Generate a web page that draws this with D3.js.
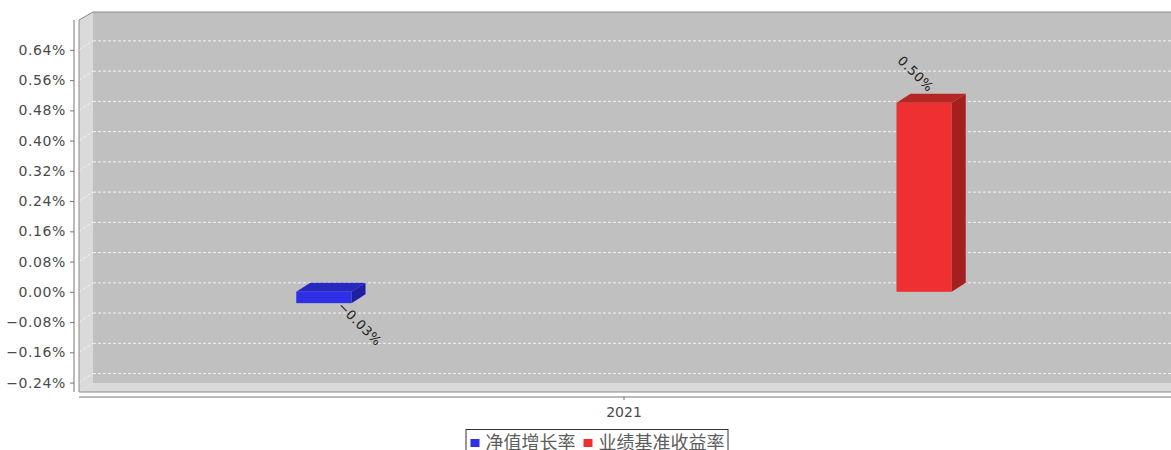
<!DOCTYPE html>
<html>
<head>
<meta charset="utf-8">
<script src="https://cdn.jsdelivr.net/npm/d3@7"></script>
<style>
  html, body { margin: 0; padding: 0; background: #fff; }
  svg { display: block; }
</style>
</head>
<body>
<svg id="chart" width="1171" height="450"></svg>
<script>
// data
var categories = ['2021'];
var seriesNames = ['净值增长率', '业绩基准收益率'];
var seriesColors = ['#2f2fe6', '#ee3030'];
var seriesTop = ['#2727c2', '#b82525'];
var seriesSide = ['#1f1fa2', '#a51f1f'];
var netGrowth = [-0.03];
var benchmark = [0.50];
var yTicks = [-0.24, -0.16, -0.08, 0.00, 0.08, 0.16, 0.24, 0.32, 0.40, 0.48, 0.56, 0.64];

function Chart(){}

/**************************************************************************************/

Chart.prototype.setup = function(svg_id){
    this.svg = d3.select('#'+svg_id);
    this.left = 79;
    this.right = 1169;
    this.top = 20;
    this.bottom = 392;
    this.dx = 14;
    this.dy = 9;

    this.y = d3.scaleLinear().domain([-0.265, 0.719]).range([this.bottom, this.top]);
    this.x0 = d3.scaleBand().domain(categories).range([this.left, this.right]);
    this.x1 = d3.scaleBand().domain(seriesNames).range([0, this.x0.bandwidth()])
        .paddingInner(0.908).paddingOuter(0.362);

    this.draw_walls();
    this.draw_axes();
    this.draw_bars();
    this.draw_legend();
}

/**************************************************************************************/

Chart.prototype.draw_walls = function(){
    var s = this, L = this.left, R = this.right, T = this.top, B = this.bottom, dx = this.dx, dy = this.dy;
    var g = this.svg.append('g');

    // back wall
    g.append('rect').attr('x', L+dx).attr('y', T-dy+1).attr('width', R-L+10).attr('height', B-T)
        .attr('fill', '#c0c0c0');
    // left wall
    g.append('path').attr('d', 'M'+L+','+T+' L'+(L+dx)+','+(T-dy+1)+' L'+(L+dx)+','+(B-dy)+' L'+L+','+B+' Z')
        .attr('fill', '#dadada');
    // floor
    g.append('path').attr('d', 'M'+L+','+B+' L'+(L+dx)+','+(B-dy)+' L'+(R+dx+10)+','+(B-dy)+' L'+(R+dx+10)+','+B+' Z')
        .attr('fill', '#dadada');

    // grid lines
    yTicks.forEach(function(v){
        var yy = s.y(v);
        g.append('line').attr('x1', L+dx).attr('x2', R+dx+10).attr('y1', yy-dy).attr('y2', yy-dy)
            .attr('stroke', '#f4f4f4').attr('stroke-width', 1).attr('stroke-dasharray', '3,2');
        g.append('line').attr('x1', L).attr('x2', L+dx).attr('y1', yy).attr('y2', yy-dy)
            .attr('stroke', '#f4f4f4').attr('stroke-width', 1).attr('stroke-dasharray', '3,2');
    });

    // outline
    g.append('path').attr('d', 'M'+L+','+B+' L'+L+','+T+' L'+(L+dx)+','+(T-dy+1)+' L'+(R+dx+10)+','+(T-dy+1))
        .attr('fill', 'none').attr('stroke', '#8c8c8c').attr('stroke-width', 1);
    g.append('line').attr('x1', L).attr('x2', R+dx+10).attr('y1', B).attr('y2', B)
        .attr('stroke', '#8c8c8c').attr('stroke-width', 1);
}

/**************************************************************************************/

Chart.prototype.draw_axes = function(){
    var s = this;
    var yAxis = d3.axisLeft(this.y).tickValues(yTicks).tickSize(4).tickPadding(4)
        .tickFormat(function(d){ return d3.format('.2f')(d) + '%'; });

    var gy = this.svg.append('g').attr('transform', 'translate(' +(this.left-5)+ ',0)').call(yAxis);
    gy.select('.domain').attr('d', 'M0,' +this.top+ 'V' +this.bottom).attr('stroke', '#777');
    gy.selectAll('.tick line').attr('stroke', '#777');
    gy.selectAll('.tick text').attr('fill', '#4a4a4a').style('font-family', 'DejaVu Sans')
        .style('font-size', '14px').attr('letter-spacing', '0.6px');

    var xAxis = d3.axisBottom(this.x0).tickSize(3).tickPadding(7).tickSizeOuter(0);
    var gx = this.svg.append('g').attr('transform', 'translate(0,' +(this.bottom+5)+ ')').call(xAxis);
    gx.select('.domain').attr('d', 'M' +this.left+ ',0H1171').attr('stroke', '#777');
    gx.selectAll('.tick line').attr('stroke', '#777');
    gx.selectAll('.tick text').attr('fill', '#4a4a4a').style('font-family', 'DejaVu Sans').style('font-size', '14px');
}

/**************************************************************************************/

Chart.prototype.draw_bars = function(){
    var s = this, dx = this.dx, dy = this.dy;
    var series = [netGrowth, benchmark];
    var g = this.svg.append('g');

    series.forEach(function(vals, si){
        vals.forEach(function(v, ci){
            var x = s.x0(categories[ci]) + s.x1(seriesNames[si]);
            var w = s.x1.bandwidth();
            var top = s.y(Math.max(0, v));
            var bot = s.y(Math.min(0, v));

            g.append('rect').attr('x', x).attr('y', top).attr('width', w).attr('height', bot-top)
                .attr('fill', seriesColors[si]);
            g.append('path')
                .attr('d', 'M'+x+','+top+' L'+(x+dx)+','+(top-dy)+' L'+(x+w+dx)+','+(top-dy)+' L'+(x+w)+','+top+' Z')
                .attr('fill', seriesTop[si]);
            g.append('path')
                .attr('d', 'M'+(x+w)+','+top+' L'+(x+w+dx)+','+(top-dy)+' L'+(x+w+dx)+','+(bot-dy)+' L'+(x+w)+','+bot+' Z')
                .attr('fill', seriesSide[si]);

            var label = d3.format('.2f')(v) + '%';
            var lx, ly, anchor;
            if(v >= 0){ lx = x + w/2 + 4; ly = top - 10; anchor = 'end'; }
            else { lx = x + w/2 + 13; ly = bot + 4; anchor = 'start'; }
            g.append('text').text(label)
                .attr('transform', 'translate(' +lx+ ',' +ly+ ') rotate(45)')
                .attr('text-anchor', anchor)
                .attr('fill', '#222').style('font-family', 'DejaVu Sans').style('font-size', '13px')
                .attr('letter-spacing', '0.6px');
        });
    });
}

/**************************************************************************************/

Chart.prototype.draw_legend = function(){
    var g = this.svg.append('g');
    var box = g.append('rect').attr('y', 429.5).attr('height', 30).attr('fill', '#fff')
        .attr('stroke', '#333').attr('stroke-width', 1);

    var cx = 4;
    seriesNames.forEach(function(name, i){
        var it = g.append('g');
        it.append('rect').attr('x', cx).attr('y', 439).attr('width', 9).attr('height', 8).attr('fill', seriesColors[i]);
        var t = it.append('text').text(name).attr('x', cx+15).attr('y', 449)
            .attr('fill', '#5c5c5c').style('font-family', 'Noto Sans CJK SC').style('font-size', '18px');
        cx += 15 + t.node().getComputedTextLength() + 8;
    });
    var total = cx - 4;
    var x0 = 597.5 - total/2;
    g.selectAll('g').attr('transform', 'translate(' +x0+ ',0)');
    box.attr('x', x0 - 0.5).attr('width', total);
}

var chart = new Chart();
chart.setup('chart');
</script>
</body>
</html>
